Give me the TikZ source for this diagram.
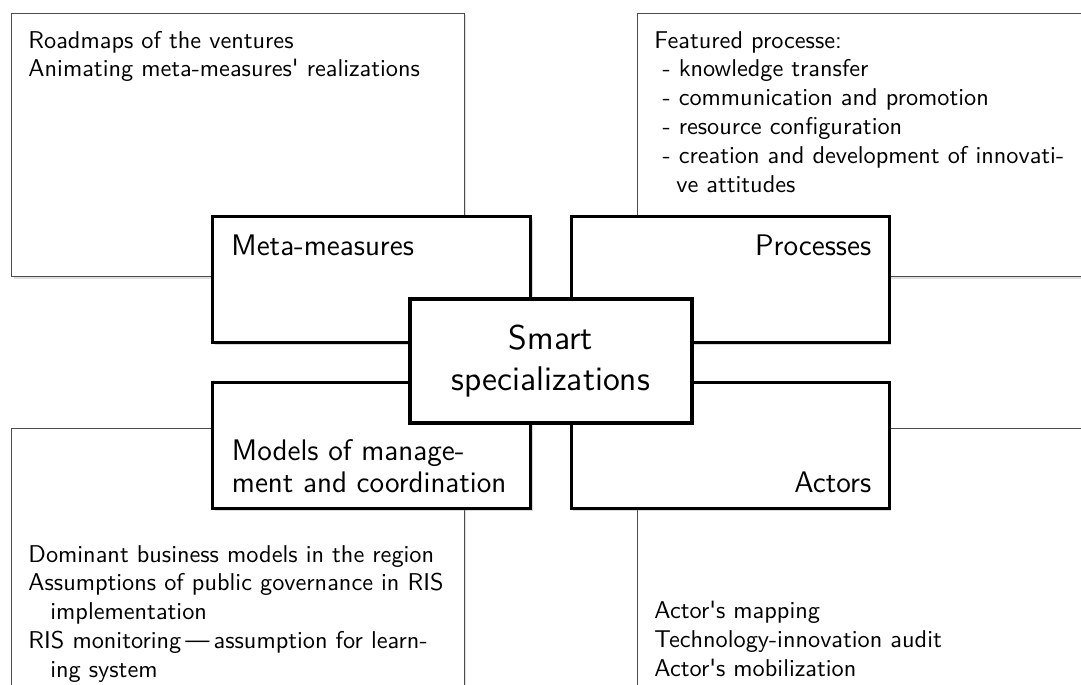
\documentclass[tikz,border=0pt]{standalone}
\usetikzlibrary{shadows}
\tikzset{
  outerframe/.style={rectangle, draw=black!70, line width=0.45pt, fill=white, minimum width={452.6*0.42pt}, minimum height={263.4*0.42pt}, drop shadow={shadow xshift=0.8pt, shadow yshift=-0.8pt, opacity=0.25}},
  facetframe/.style={rectangle, draw=black, line width=1.2pt, fill=white, minimum width={318*0.42pt}, minimum height={126*0.42pt}, drop shadow={shadow xshift=0.8pt, shadow yshift=-0.8pt, opacity=0.3}},
  hub/.style={rectangle, draw=black, line width=1.7pt, fill=white, minimum width={281.7*0.42pt}, minimum height={124.6*0.42pt}, align=center, font=\sffamily\fontsize{14.4}{17.2}\selectfont, drop shadow={shadow xshift=0.8pt, shadow yshift=-0.8pt, opacity=0.3}},
  notetext/.style={inner sep=0pt, align=left, font=\sffamily\fontsize{10.2}{12.1}\selectfont},
  facetlabel/.style={inner sep=0pt, align=left, font=\sffamily\fontsize{12.5}{13.3}\selectfont}
}
\newcommand{\q}{\textquotesingle}
\begin{document}
\begin{tikzpicture}[x=0.42pt, y=-0.42pt]
      \useasboundingbox (0,0) rectangle (1081,684);
      \clip (0,0) rectangle (1081,684);
      % outer frames
      \node (framemeta) [outerframe] at (238,145) {};
      \node (frameproc) [outerframe] at (864,145) {};
      \node (framemodel) [outerframe] at (238,560) {};
      \node (frameactor) [outerframe] at (864,560) {};
      \node (notemeta) [notetext, anchor=north west] at (28,27.5) {\strut Roadmaps of the ventures\\Animating meta-measures\q{} realizations};
      \node (noteproc) [notetext, anchor=north west] at (654,27.5) {\strut Featured processe:\\\hspace*{3.4pt}- knowledge transfer\\\hspace*{3.4pt}- communication and promotion\\\hspace*{3.4pt}- resource configuration\\\hspace*{3.4pt}- creation and development of innovati-\\\hspace*{9.2pt}ve attitudes};
      \node (notemodel) [notetext, anchor=north west] at (28,541.5) {\strut Dominant business models in the region\\Assumptions of public governance in RIS\\\hspace*{9.2pt}implementation\\RIS monitoring\,---\,assumption for learn-\\\hspace*{9.2pt}ing system};
      \node (noteactor) [notetext, anchor=north west] at (654,597.8) {\strut Actor\q{}s mapping\\Technology-innovation audit\\Actor\q{}s mobilization};
      % facets
      \node (meta) [facetframe] at (371.7,279.7) {};
      \node (proc) [facetframe] at (730.2,279.7) {};
      \node (model) [facetframe] at (371.7,445.8) {};
      \node (actor) [facetframe] at (730.2,445.8) {};
      \node (metalbl) [facetlabel, anchor=base west] at (231,255) {Meta-measures};
      \node (proclbl) [facetlabel, anchor=base east] at (871.7,255) {Processes};
      \node (modellbl) [facetlabel, anchor=north west] at (231.5,437.8) {\strut Models of manage-\\ment and coordination};
      \node (actorlbl) [facetlabel, anchor=base east] at (871.7,492.7) {Actors};
      % centre
      \node (smart) [hub] at (550.85,361) {Smart\\specializations};
    \end{tikzpicture}
\end{document}
